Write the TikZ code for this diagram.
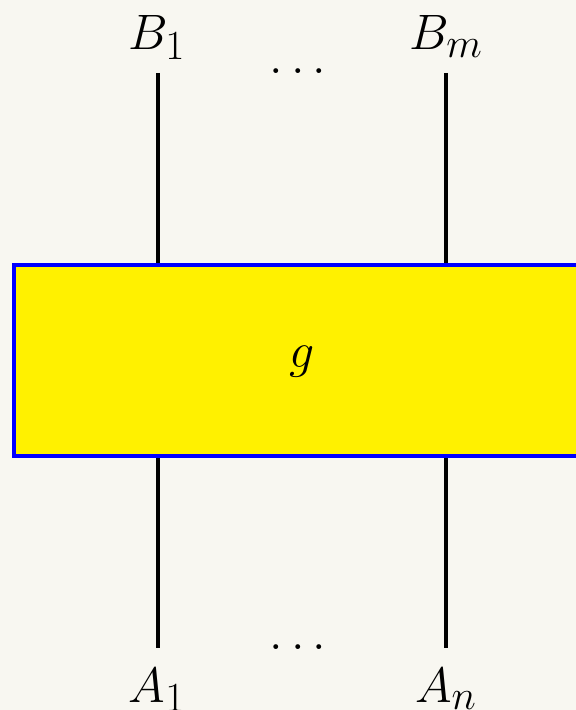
\documentclass[tikz,border=0pt]{standalone}
\usepackage{amsmath,amssymb}
\usetikzlibrary{positioning,calc}
\definecolor{paper}{HTML}{F8F7F1}
\definecolor{boxyellow}{HTML}{FFF100}
\definecolor{boxblue}{HTML}{0000FF}

\begin{document}
\begin{tikzpicture}[
    x=0.5pt,y=-0.5pt,
    font=\fontsize{29}{34}\selectfont,
    morph/.style={draw=boxblue,line width=2pt,fill=boxyellow,inner sep=0pt,
      minimum width=288pt,minimum height=95.5pt},
    wire/.style={line width=1.6pt,draw=black},
    label/.style={anchor=base,inner sep=0pt}
  ]
    \path[use as bounding box,fill=paper] (0,0) rectangle (576,710);
    \clip (0,0) rectangle (576,710);

    \node[morph] (g) at (302,360.5) {};
    \node[label] (gname) at (302,367) {$g$};

    \node[label] (b1) at (157,50) {$B_1$};
    \node[label] (bm) at (446,50) {$B_m$};
    \node[label] (bdots) at (302,74) {$\dots$};
    \node[label] (a1) at (157,702) {$A_1$};
    \node[label] (an) at (446,702) {$A_n$};
    \node[label] (adots) at (302,649) {$\dots$};

    \coordinate (b1top) at (158,73);
    \coordinate (bmtop) at (446,73);
    \coordinate (a1bot) at (158,648);
    \coordinate (anbot) at (446,648);

    \draw[wire] (b1top) -- (b1top |- g.north);
    \draw[wire] (bmtop) -- (bmtop |- g.north);
    \draw[wire] (g.south -| a1bot) -- (a1bot);
    \draw[wire] (g.south -| anbot) -- (anbot);
  \end{tikzpicture}
\end{document}
